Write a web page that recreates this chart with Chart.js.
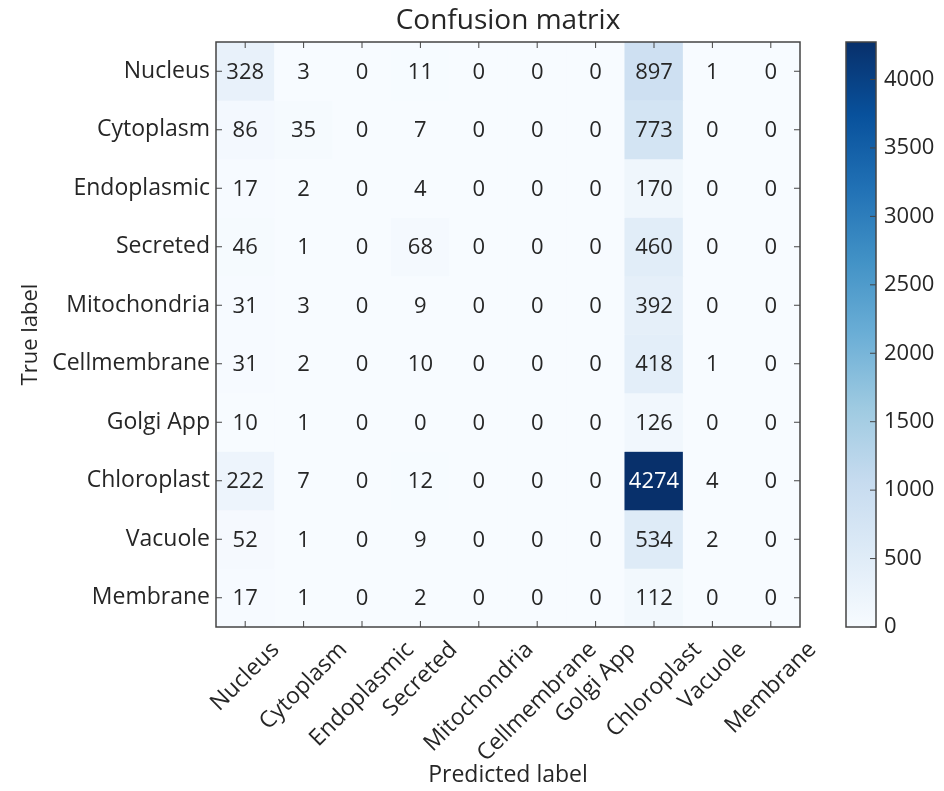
<!DOCTYPE html>
<html>
<head>
<meta charset="utf-8">
<title>Confusion matrix</title>
<script src="https://cdn.jsdelivr.net/npm/chart.js@4.4.1/dist/chart.umd.min.js"></script>
<style>
  html, body { margin: 0; padding: 0; background: #fff; }
</style>
</head>
<body>
<canvas id="cm" width="944" height="791"></canvas>
<script>
// class names (rows = true label, columns = predicted label)
const classNames = ['Nucleus', 'Cytoplasm', 'Endoplasmic', 'Secreted', 'Mitochondria',
  'Cellmembrane', 'Golgi App', 'Chloroplast', 'Vacuole', 'Membrane'];

// one array per true label
const nucleusRow      = [328, 3, 0, 11, 0, 0, 0, 897, 1, 0];
const cytoplasmRow    = [86, 35, 0, 7, 0, 0, 0, 773, 0, 0];
const endoplasmicRow  = [17, 2, 0, 4, 0, 0, 0, 170, 0, 0];
const secretedRow     = [46, 1, 0, 68, 0, 0, 0, 460, 0, 0];
const mitochondriaRow = [31, 3, 0, 9, 0, 0, 0, 392, 0, 0];
const cellmembraneRow = [31, 2, 0, 10, 0, 0, 0, 418, 1, 0];
const golgiRow        = [10, 1, 0, 0, 0, 0, 0, 126, 0, 0];
const chloroplastRow  = [222, 7, 0, 12, 0, 0, 0, 4274, 4, 0];
const vacuoleRow      = [52, 1, 0, 9, 0, 0, 0, 534, 2, 0];
const membraneRow     = [17, 1, 0, 2, 0, 0, 0, 112, 0, 0];

const counts = [nucleusRow, cytoplasmRow, endoplasmicRow, secretedRow, mitochondriaRow,
  cellmembraneRow, golgiRow, chloroplastRow, vacuoleRow, membraneRow];

// colorbar ticks
const colorbarTicks = [0, 500, 1000, 1500, 2000, 2500, 3000, 3500, 4000];
const cmMax = Math.max(...counts.flat());

// matplotlib "Blues"
const BLUES = ['#f7fbff', '#deebf7', '#c6dbef', '#9ecae1', '#6baed6', '#4292c6', '#2171b5', '#08519c', '#08306b'];
function hexRgb(h) {
  return [parseInt(h.slice(1, 3), 16), parseInt(h.slice(3, 5), 16), parseInt(h.slice(5, 7), 16)];
}
function blues(t) {
  t = Math.max(0, Math.min(1, t));
  const p = t * 8;
  const i = Math.min(7, Math.floor(p));
  const f = p - i;
  const a = hexRgb(BLUES[i]), b = hexRgb(BLUES[i + 1]);
  const c = a.map((v, k) => Math.round(v + (b[k] - v) * f));
  return 'rgb(' + c.join(',') + ')';
}

const FONT = '"Open Sans", sans-serif';
const TEXT = '#262626';
Chart.defaults.font.family = FONT;
Chart.defaults.color = TEXT;

const datasets = counts.map((row, r) => ({
  label: classNames[r],
  data: row.map(() => [r - 0.5, r + 0.5]),
  backgroundColor: row.map(v => blues(v / cmMax)),
  borderWidth: 0,
  grouped: false,
  barPercentage: 1,
  categoryPercentage: 1
}));

const extras = {
  id: 'extras',
  afterDatasetsDraw(chart) {
    const {ctx, chartArea: a, scales} = chart;
    const x = scales.x, y = scales.y, cb = scales.cb;
    ctx.save();

    // title, centred over the axes
    ctx.font = '28px ' + FONT;
    ctx.fillStyle = TEXT;
    ctx.textAlign = 'center';
    ctx.textBaseline = 'middle';
    ctx.fillText('Confusion matrix', (a.left + a.right) / 2, a.top - 21);

    // numbers in the cells
    ctx.font = '22px ' + FONT;
    counts.forEach((row, r) => row.forEach((v, c) => {
      ctx.fillStyle = v > cmMax / 2 ? '#fff' : TEXT;
      ctx.fillText(String(v), x.getPixelForValue(c), y.getPixelForValue(r) + 1);
    }));

    // frame + inward ticks
    ctx.strokeStyle = '#444';
    ctx.lineWidth = 1.5;
    ctx.strokeRect(a.left, a.top, a.width, a.height);
    ctx.lineWidth = 1;
    ctx.beginPath();
    classNames.forEach((_, i) => {
      const px = x.getPixelForValue(i), py = y.getPixelForValue(i);
      ctx.moveTo(px, a.bottom); ctx.lineTo(px, a.bottom - 6);
      ctx.moveTo(px, a.top); ctx.lineTo(px, a.top + 6);
      ctx.moveTo(a.left, py); ctx.lineTo(a.left + 6, py);
      ctx.moveTo(a.right, py); ctx.lineTo(a.right - 6, py);
    });
    ctx.stroke();

    // rotated x tick labels, centred on the tick like matplotlib ha='center'
    ctx.font = '23px ' + FONT;
    ctx.fillStyle = TEXT;
    const s = Math.SQRT1_2, th = 20;
    classNames.forEach((name, i) => {
      const w = ctx.measureText(name).width;
      const bh = (w + th) * s;
      ctx.save();
      ctx.translate(x.getPixelForValue(i), a.bottom + 12 + bh / 2);
      ctx.rotate(-Math.PI / 4);
      ctx.fillText(name, 0, 0);
      ctx.restore();
    });

    // colorbar
    const cbL = a.right + 46, cbW = 30;
    const top = cb.getPixelForValue(cmMax), bot = cb.getPixelForValue(0);
    const g = ctx.createLinearGradient(0, bot, 0, top);
    BLUES.forEach((col, k) => g.addColorStop(k / 8, col));
    ctx.fillStyle = g;
    ctx.fillRect(cbL, top, cbW, bot - top);
    ctx.strokeStyle = '#444';
    ctx.lineWidth = 1.5;
    ctx.strokeRect(cbL, top, cbW, bot - top);
    ctx.lineWidth = 1;
    ctx.beginPath();
    colorbarTicks.forEach(v => {
      const py = cb.getPixelForValue(v);
      ctx.moveTo(cbL + cbW, py); ctx.lineTo(cbL + cbW - 6, py);
    });
    ctx.stroke();
    ctx.restore();
  }
};

const config = {
  type: 'bar',
  data: { labels: classNames, datasets: datasets },
  options: {
    responsive: false,
    animation: false,
    devicePixelRatio: 1,
    layout: { autoPadding: false, padding: { left: 10, top: 42, right: 0, bottom: 0 } },
    plugins: {
      legend: { display: false },
      title: { display: false }
    },
    scales: {
      x: {
        type: 'category',
        offset: true,
        grid: { display: false, drawTicks: false },
        border: { display: false },
        ticks: { display: false },
        title: { display: true, text: 'Predicted label', font: { size: 23 }, color: TEXT, padding: { top: 2, bottom: 2 } },
        afterFit(s) { s.height = 164; }
      },
      y: {
        type: 'linear',
        min: -0.5,
        max: 9.5,
        reverse: true,
        grid: { display: false, drawTicks: false },
        border: { display: false },
        ticks: {
          autoSkip: false,
          padding: 6,
          font: { size: 23 },
          color: TEXT,
          callback: v => classNames[v] ?? ''
        },
        afterBuildTicks(s) { s.ticks = classNames.map((_, i) => ({ value: i })); },
        title: { display: true, text: 'True label', font: { size: 22 }, color: TEXT, padding: { top: 8, bottom: 0 } },
        afterFit(s) { s.width = 206; }
      },
      cb: {
        type: 'linear',
        position: 'right',
        min: 0,
        max: cmMax,
        grid: { display: true, drawOnChartArea: false, color: 'transparent', drawTicks: true, tickLength: 78 },
        border: { display: false },
        ticks: {
          autoSkip: false,
          padding: 6,
          font: { size: 22 },
          color: TEXT,
          callback: v => String(v)
        },
        afterBuildTicks(s) { s.ticks = colorbarTicks.map(v => ({ value: v })); },
        afterFit(s) { s.width = 144; }
      }
    }
  },
  plugins: [extras]
};

new Chart(document.getElementById('cm'), config);
</script>
</body>
</html>
